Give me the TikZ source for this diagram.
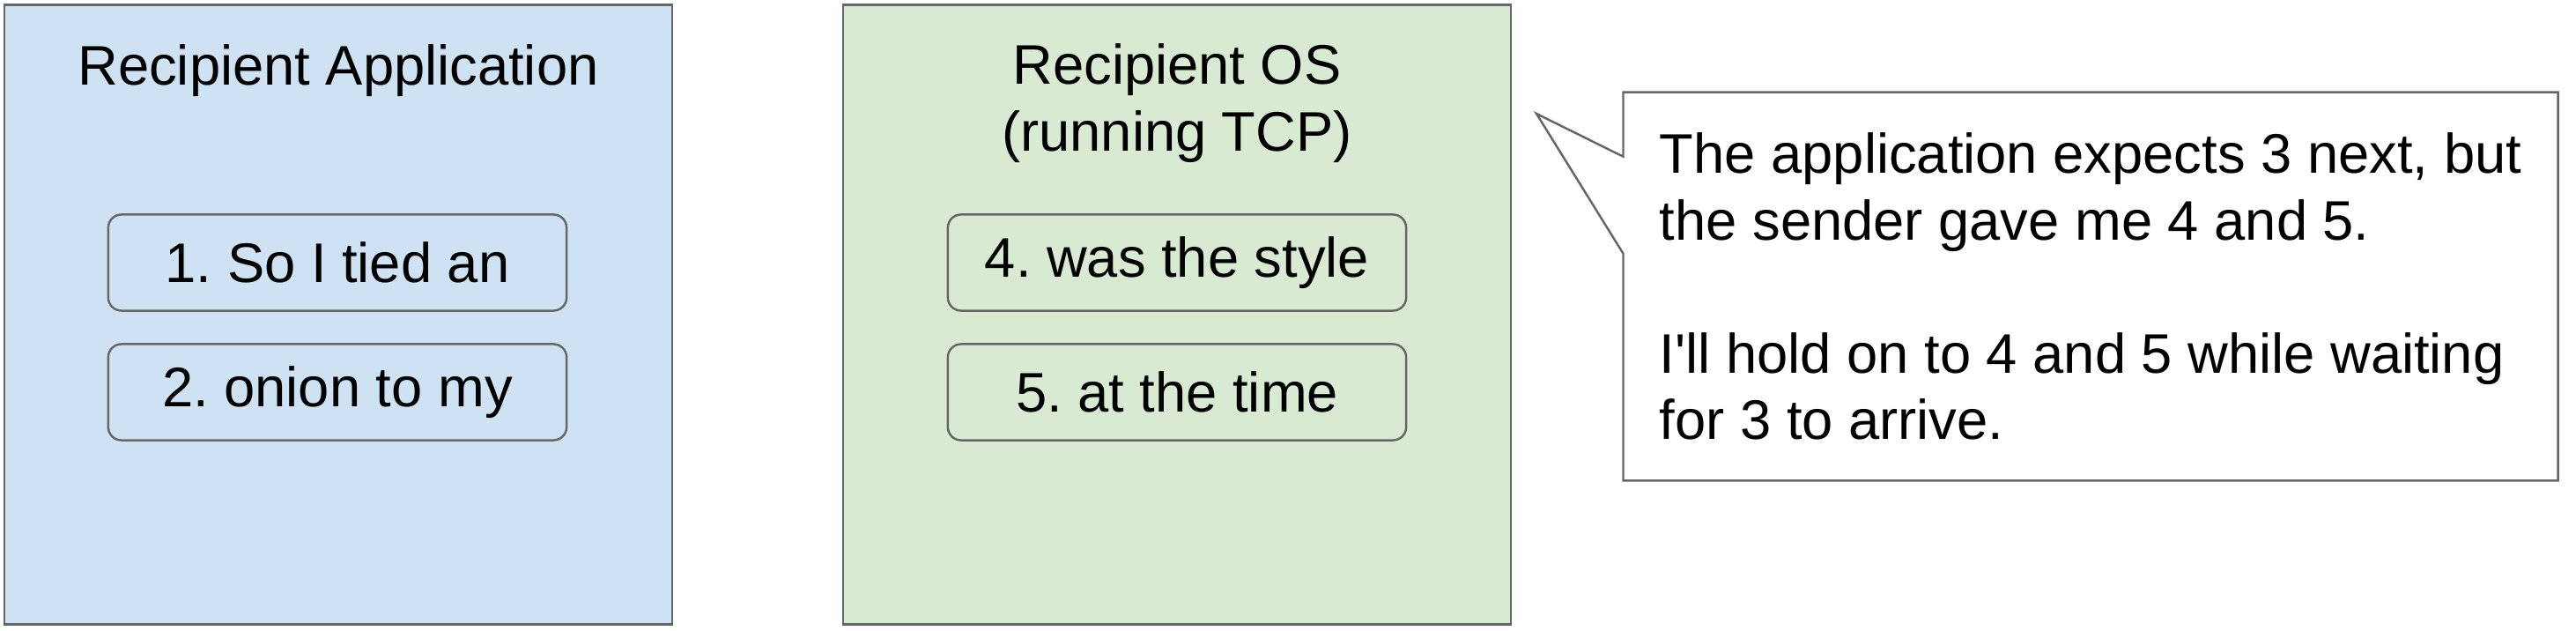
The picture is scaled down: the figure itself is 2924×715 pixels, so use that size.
\documentclass[tikz,border=0pt]{standalone}
\usepackage{fontspec}
\setmainfont{Liberation Sans}
\usetikzlibrary{positioning}
\definecolor{appblue}{HTML}{CFE2F3}
\definecolor{osgreen}{HTML}{D9EAD3}
\definecolor{edgegray}{HTML}{666666}
\frenchspacing

\begin{document}
\begin{tikzpicture}[x=0.01cm,y=-0.01cm,
    panel/.style={draw=edgegray,line width=0.7pt,minimum width=7.58cm,minimum height=7.03cm},
    seg/.style={draw=edgegray,line width=0.7pt,rounded corners=0.15cm,
      minimum width=5.2cm,minimum height=1.09cm,inner sep=0pt,font=\fontsize{18}{21.5}\selectfont},
    title/.style={align=center,inner sep=0pt,font=\fontsize{18}{21.5}\selectfont}]
  \useasboundingbox (0,0) rectangle (2924,715);
  \node[panel,fill=appblue] (app) at (384,357) {};
  \node[panel,fill=osgreen] (os) at (1336,357) {};
  \node[title] (apptitle) at (384,80) {Recipient Application};
  \node[title] (ostitle) at (1336,117) {Recipient OS\\(running TCP)};
  \node[seg] (s1) at (383,298) {1. So I tied an};
  \node[seg] (s2) at (383,445) {2. onion to my};
  \node[seg] (s4) at (1336,298) {4. was the style};
  \node[seg] (s5) at (1336,445) {5. at the time};
  \node[minimum width=10.59cm,minimum height=4.39cm,inner sep=0pt,
    align=left,font=\fontsize{18}{21.5}\selectfont] (call) at (2373,325)
    {The application expects 3 next, but\\the sender gave me 4 and 5.\\[21.5pt]
     I\textquotesingle ll hold on to 4 and 5 while waiting\\for 3 to arrive.};
  \coordinate (tip) at (1744,129);
  \draw[draw=edgegray,line width=0.7pt]
    (call.north west) -- (call.north east) -- (call.south east) -- (call.south west)
    -- ([yshift=-1.83cm]call.north west) -- (tip) -- ([yshift=-0.73cm]call.north west) -- cycle;
\end{tikzpicture}
\end{document}
